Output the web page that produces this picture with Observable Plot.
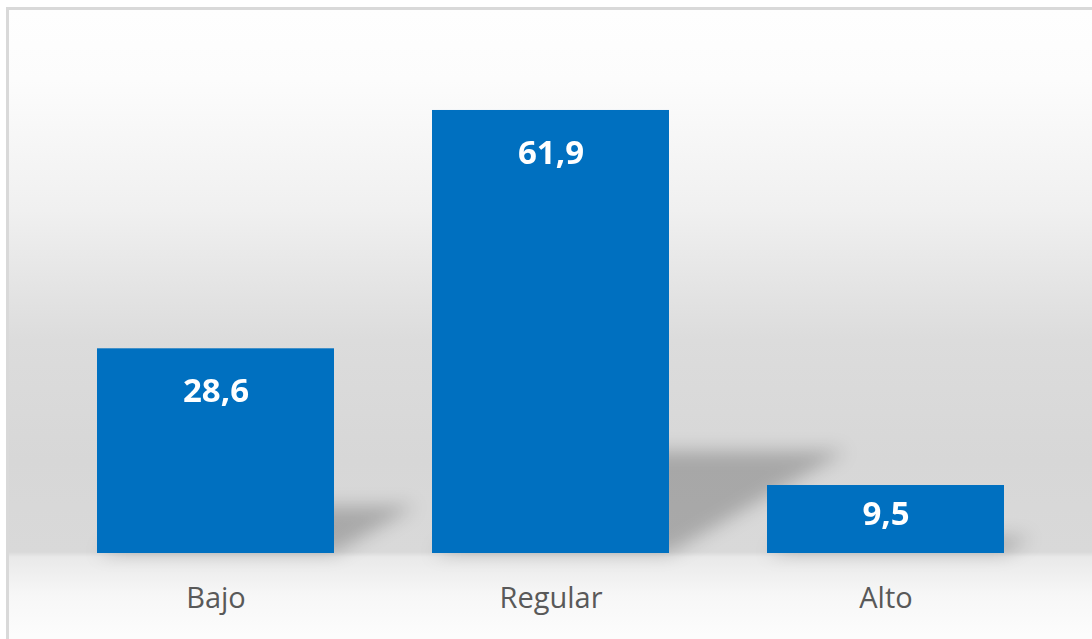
<!DOCTYPE html>
<html><head><meta charset="utf-8">
<script src="https://cdn.jsdelivr.net/npm/d3@7"></script>
<script src="https://cdn.jsdelivr.net/npm/@observablehq/plot@0.6"></script>
<style>
html,body{margin:0;padding:0;width:1092px;height:639px;overflow:hidden;background:#fff;}
#frame{position:absolute;left:6px;top:7px;width:1120px;height:660px;border:3px solid #d9d9d9;box-sizing:border-box;
background:linear-gradient(to bottom, #fefefe 0px, #fcfcfc 70px, #f0f0f0 200px, #dcdcdc 330px, #d7d7d7 450px, #d9d9d9 542px, #e9e9e9 547px, #f7f7f7 585px, #fcfcfc 625px);}
#chart{position:absolute;left:0;top:0;}
</style></head><body>
<div id="frame"></div><div id="chart"></div>
<script>
const categories = ["Bajo", "Regular", "Alto"];
const values = [28.6, 61.9, 9.5];
const labels = ["28,6", "61,9", "9,5"];
const data = categories.map((c, i) => ({category: c, value: values[i], label: labels[i]}));

const plot = Plot.plot({
  width: 1092, height: 639,
  marginLeft: 48.5, marginRight: 38.5, marginTop: 52, marginBottom: 86,
  style: {background: "transparent", fontFamily: "'Open Sans', sans-serif", fontSize: "29px", color: "#595959"},
  x: {domain: categories, paddingInner: 0.2925, paddingOuter: 0.14625, label: null, tickSize: 0, tickPadding: 34},
  y: {domain: [0, 70], axis: null},
  marks: [
    Plot.barY(data, {x: "category", y: "value", fill: "#000", fillOpacity: 0.22}),
    Plot.barY(data, {x: "category", y: "value", fill: "#0070C0"}),
    Plot.text(data, {x: "category", y: d => d.value - Math.min(6, d.value * 0.43), text: "label",
      fill: "white", fontWeight: "bold", fontSize: 33})
  ]
});

// perspective shadow: flatten and skew the first bar layer onto the floor
const y0 = plot.scale("y").apply(0);
const s = 0.23, ang = -60;
const shadowG = plot.querySelectorAll('g[aria-label="bar"]')[0];
shadowG.style.filter = "blur(9px)";
shadowG.querySelectorAll("rect").forEach(r =>
  r.setAttribute("transform", `translate(0,${y0}) skewX(${ang}) scale(1,${s}) translate(0,${-y0})`));

document.getElementById("chart").appendChild(plot);
</script>
</body></html>
